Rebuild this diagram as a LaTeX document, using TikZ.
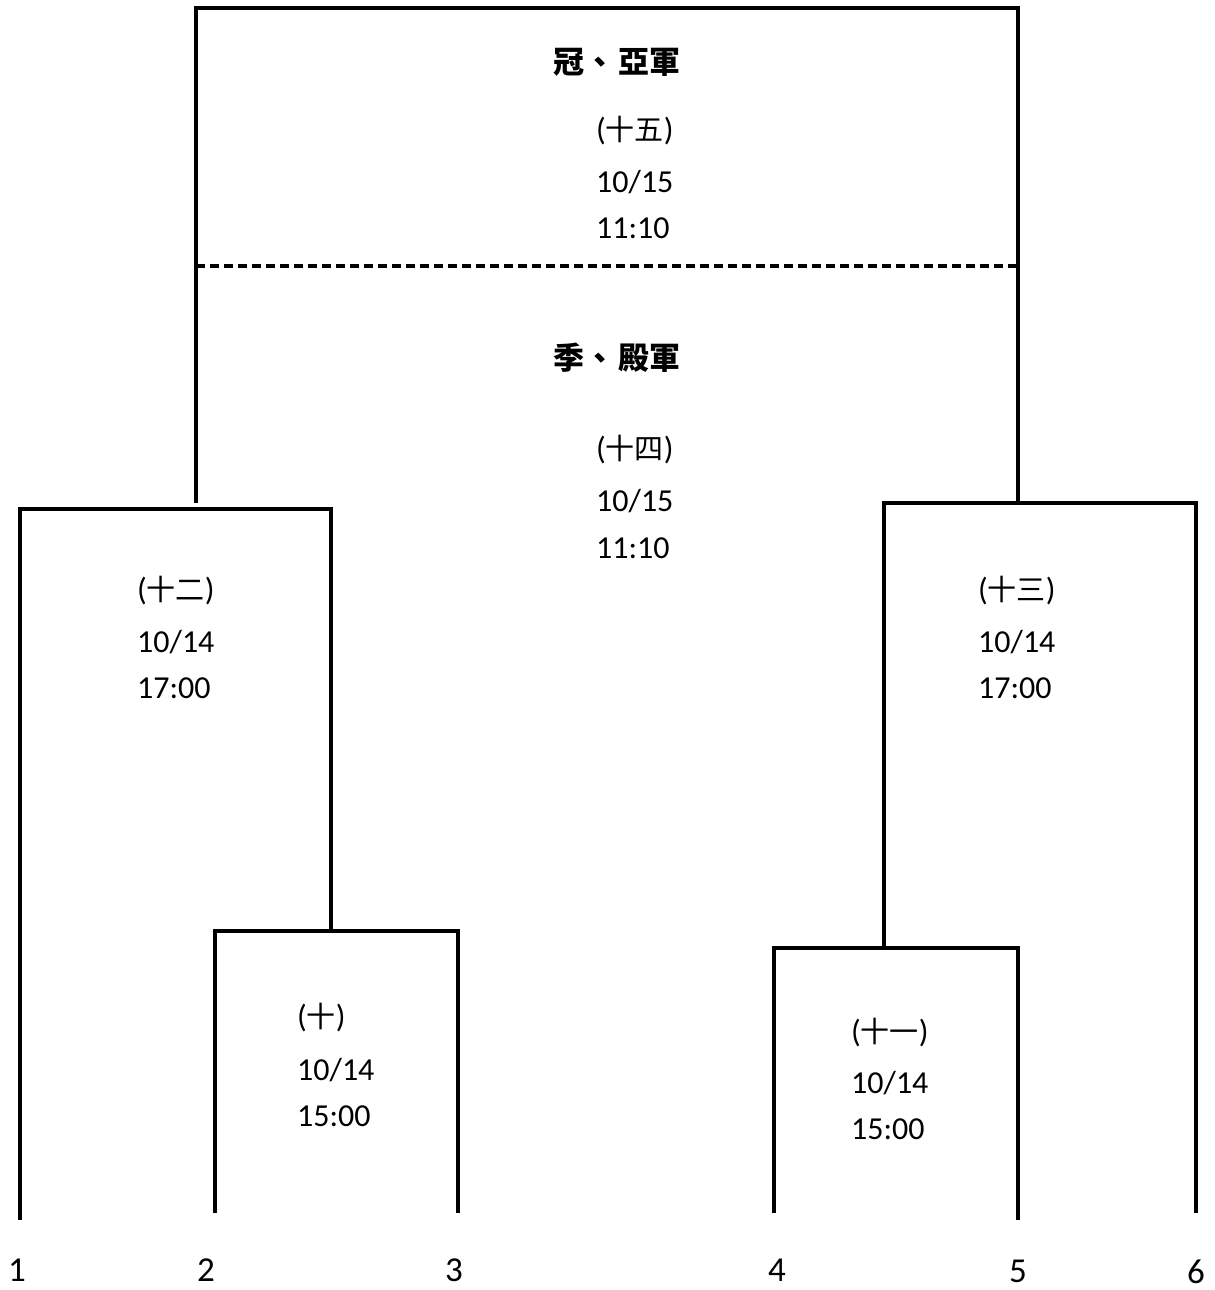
\documentclass[tikz,border=0pt]{standalone}
\usepackage{fontspec}
\setmainfont{Carlito}
\newfontfamily\cjk{Noto Sans CJK TC}
\newcommand{\cjkn}{\cjk\fontsize{29}{35}\selectfont}
\begin{document}
\begin{tikzpicture}[x=1pt,y=-1pt,
  br/.style={line width=3.5pt, line join=miter},
  dsh/.style={line width=3.5pt, dash pattern=on 9pt off 5pt},
  info/.style={anchor=base west, inner sep=0pt, font=\fontsize{32}{38}\selectfont},
  lbl/.style={inner sep=0pt, font=\fontsize{35}{42}\selectfont},
  head/.style={inner sep=0pt, font=\fontsize{31}{37}\selectfont\cjk\bfseries}]
\useasboundingbox (0,0) rectangle (1215,1290);
% coordinates
\coordinate (t1) at (196,8);   \coordinate (t2) at (1018,8);
\coordinate (la) at (196,503); \coordinate (ra) at (1018,503);
\coordinate (d1) at (196,266); \coordinate (d2) at (1018,266);
\coordinate (l1) at (20,509);  \coordinate (l2) at (331,509);
\coordinate (l1b) at (20,1220); \coordinate (l2b) at (331,931);
\coordinate (p1) at (215,931); \coordinate (p2) at (458,931);
\coordinate (p1b) at (215,1213); \coordinate (p2b) at (458,1213);
\coordinate (r1) at (884,503); \coordinate (r2) at (1196,503);
\coordinate (r1b) at (884,948); \coordinate (r2b) at (1196,1213);
\coordinate (q1) at (774,948); \coordinate (q2) at (1018,948);
\coordinate (q1b) at (774,1213); \coordinate (q2b) at (1018,1220);
% brackets
\draw[br] (la) -- (t1) -- (t2) -- (ra);
\draw[dsh] (d1) -- (d2);
\draw[br] (l1b) -- (l1) -- (l2) -- (l2b);
\draw[br] (p1b) -- (p1) -- (p2) -- (p2b);
\draw[br] (r1b) -- (r1) -- (r2) -- (r2b);
\draw[br] (q1b) -- (q1) -- (q2) -- (q2b);
% headings
\node[head] (h1) at (617,62) {冠、\hspace{3pt}亞軍};
\node[head] (h2) at (617,358) {季、\hspace{3pt}殿軍};
% match info
\node[info] (a1) at (596,140) {({\cjkn 十五})};
\node[info] (a2) at (596,192) {10/15};
\node[info] (a3) at (596,238) {11:10};
\node[info] (b1) at (596,459) {({\cjkn 十四})};
\node[info] (b2) at (596,511) {10/15};
\node[info] (b3) at (596,558) {11:10};
\node[info] (c1) at (137,600) {({\cjkn 十二})};
\node[info] (c2) at (137,652) {10/14};
\node[info] (c3) at (137,698) {17:00};
\node[info] (e1) at (978,600) {({\cjkn 十三})};
\node[info] (e2) at (978,652) {10/14};
\node[info] (e3) at (978,698) {17:00};
\node[info] (f1) at (297,1027) {({\cjkn 十})};
\node[info] (f2) at (297,1080) {10/14};
\node[info] (f3) at (297,1126) {15:00};
\node[info] (g1) at (851,1042) {({\cjkn 十一})};
\node[info] (g2) at (851,1093) {10/14};
\node[info] (g3) at (851,1139) {15:00};
% team labels
\node[lbl] (n1) at (17,1270) {1};
\node[lbl] (n2) at (206,1270) {2};
\node[lbl] (n3) at (454,1270) {3};
\node[lbl] (n4) at (777,1270) {4};
\node[lbl] (n5) at (1018,1271) {5};
\node[lbl] (n6) at (1196,1272) {6};
\end{tikzpicture}
\end{document}
